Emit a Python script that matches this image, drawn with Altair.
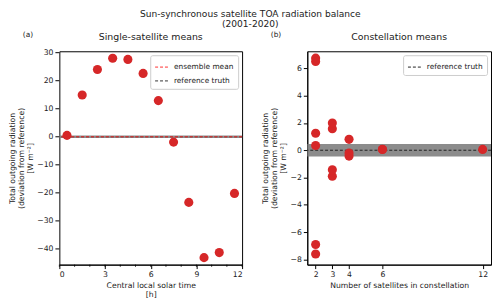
import altair as alt
import pandas as pd

# ---- data ----
lst = [0.5, 1.5, 2.5, 3.5, 4.5, 5.5, 6.5, 7.5, 8.5, 9.5, 10.5, 11.5]
single = [0.5, 14.9, 24.0, 28.0, 27.6, 22.6, 12.9, -1.9, -23.4, -43.1, -41.3, -20.2]

n_sat = [2, 2, 2, 2, 2, 2, 3, 3, 3, 3, 4, 4, 4, 6, 6, 12]
const = [6.75, 6.5, 1.25, 0.35, -6.9, -7.6, 1.57, -1.9, -1.43, 2.0, -0.43, -0.2, 0.8, 0.07, 0.05, 0.06]

band_lo = [-0.45]
band_hi = [0.45]

left_series = ["reference truth", "ensemble mean"]
left_values = [0.0, 0.0]
right_series = ["reference truth"]
right_values = [0.0]

left_xticks = [0, 3, 6, 9, 12]
left_minor = list(range(13))
left_yticks = [-40, -30, -20, -10, 0, 10, 20, 30]
left_ylabels = ["\u221240", "\u221230", "\u221220", "\u221210", "0", "10", "20", "30"]
right_xticks = [2, 3, 4, 6, 12]
right_yticks = [-8, -6, -4, -2, 0, 2, 4, 6]

FONT = "DejaVu Sans"
RED = "#d62728"
TXT = "#222222"
ytitle = ["Total outgoing radiation", "(deviation from reference)", "[W m\u207b\u00b2]"]

W, H = 185, 216


def panel_text(label, title, w):
    lab = alt.Chart(pd.DataFrame({"l": [label]})).mark_text(
        align="left", baseline="alphabetic", fontSize=7.5, font=FONT, color=TXT
    ).encode(x=alt.value(-37), y=alt.value(-14), text="l:N")
    tit = alt.Chart(pd.DataFrame({"l": [title]})).mark_text(
        align="center", baseline="alphabetic", fontSize=9.5, font=FONT, color=TXT
    ).encode(x=alt.value(w / 2), y=alt.value(-11), text="l:N")
    return lab, tit


# ---- left panel ----
ldf = pd.DataFrame({"t": lst, "v": single})
lband = pd.DataFrame({"lo": band_lo, "hi": band_hi})
lrule = pd.DataFrame({"s": left_series, "v": left_values})
lyt = pd.DataFrame({"v": left_yticks, "lab": left_ylabels})

lxs = alt.Scale(domain=[0, 12], nice=False, zero=False)
lys = alt.Scale(domain=[-45.6, 30.5], nice=False, zero=False)
lyax = alt.Axis(values=left_yticks, title=ytitle, labels=False, ticks=False, domain=False,
                titlePadding=25)
lxax = alt.Axis(values=left_xticks, title=["Central local solar time", "[h]"], labelOverlap=False)

l_band = alt.Chart(lband).mark_rect(color="#808080", opacity=0.9).encode(
    y=alt.Y("lo:Q", scale=lys, axis=lyax),
    y2="hi:Q",
)
leg_l = alt.Legend(title=None, orient="top-right")
l_rule = alt.Chart(lrule).mark_rule(strokeWidth=1).encode(
    y=alt.Y("v:Q", scale=lys, axis=lyax),
    color=alt.Color("s:N", scale=alt.Scale(domain=["ensemble mean", "reference truth"],
                                           range=["#ff3030", "#333333"]), legend=leg_l),
    strokeDash=alt.StrokeDash("s:N", scale=alt.Scale(domain=["ensemble mean", "reference truth"],
                                                     range=[[3, 2], [3, 2]]), legend=leg_l),
)
l_yticks = alt.Chart(lyt).mark_rule(color="black", strokeWidth=1).encode(
    y=alt.Y("v:Q", scale=lys, axis=lyax), x=alt.value(-4), x2=alt.value(0)
)
l_ylabels = alt.Chart(lyt).mark_text(
    align="right", baseline="middle", fontSize=7.8, font=FONT, color=TXT
).encode(y=alt.Y("v:Q", scale=lys, axis=lyax), x=alt.value(-6), text="lab:N")
l_minor = alt.Chart(pd.DataFrame({"m": left_minor})).mark_rule(
    color="black", strokeWidth=0.8
).encode(x=alt.X("m:Q", scale=lxs, axis=lxax), y=alt.value(H), y2=alt.value(H + 2.2))
l_pts = alt.Chart(ldf).mark_circle(size=85, color=RED, opacity=1).encode(
    x=alt.X("t:Q", scale=lxs, axis=lxax),
    y=alt.Y("v:Q", scale=lys, axis=lyax),
)
l_lab, l_tit = panel_text("(a)", "Single-satellite means", W)

left = alt.layer(l_band, l_rule, l_pts, l_minor, l_yticks, l_ylabels, l_lab, l_tit).properties(width=W, height=H)

# ---- right panel ----
rdf = pd.DataFrame({"n": n_sat, "v": const})
rband = pd.DataFrame({"lo": band_lo, "hi": band_hi})
rrule = pd.DataFrame({"s": right_series, "v": right_values})

rxs = alt.Scale(domain=[1.5, 12.5], nice=False, zero=False)
rys = alt.Scale(domain=[-8.38, 7.25], nice=False, zero=False)
ryax = alt.Axis(values=right_yticks, title=ytitle, labelOverlap=False)
rxax = alt.Axis(values=right_xticks, title="Number of satellites in constellation", labelOverlap=False)

r_band = alt.Chart(rband).mark_rect(color="#808080", opacity=0.9).encode(
    y=alt.Y("lo:Q", scale=rys, axis=ryax),
    y2="hi:Q",
)
leg_r = alt.Legend(title=None, orient="top-right")
r_rule = alt.Chart(rrule).mark_rule(strokeWidth=1).encode(
    y=alt.Y("v:Q", scale=rys, axis=ryax),
    color=alt.Color("s:N", scale=alt.Scale(domain=["reference truth"], range=["#222222"]), legend=leg_r),
    strokeDash=alt.StrokeDash("s:N", scale=alt.Scale(domain=["reference truth"], range=[[3, 2]]), legend=leg_r),
)
r_pts = alt.Chart(rdf).mark_circle(size=85, color=RED, opacity=1).encode(
    x=alt.X("n:Q", scale=rxs, axis=rxax),
    y=alt.Y("v:Q", scale=rys, axis=ryax),
)
r_lab, r_tit = panel_text("(b)", "Constellation means", W + 1)

right = alt.layer(r_band, r_rule, r_pts, r_lab, r_tit).properties(width=W + 1, height=H)

chart = alt.hconcat(left, right, spacing=18).resolve_scale(
    color="independent", strokeDash="independent"
).properties(
    title=alt.TitleParams(["Sun-synchronous satellite TOA radiation balance", "(2001-2020)"],
                          anchor="middle", fontSize=9.2, fontWeight="normal", font=FONT,
                          lineHeight=10, offset=2),
).configure(
    font=FONT, padding={"left": 0, "top": 0, "right": 0, "bottom": 0},
).configure_view(
    stroke="black", strokeWidth=1,
).configure_axis(
    grid=False, domainColor="black", tickColor="black", tickSize=4,
    labelFont=FONT, titleFont=FONT, labelFontSize=7.8, titleFontSize=7.8,
    titleFontWeight="normal", labelColor=TXT, titleColor=TXT, labelPadding=2, titlePadding=3,
    titleLineHeight=9,
).configure_legend(
    labelFont=FONT, labelFontSize=7.5, labelColor=TXT, symbolType="stroke",
    symbolSize=200, symbolStrokeWidth=1, strokeColor="#cccccc", fillColor="white",
    cornerRadius=2, padding=4, offset=4, rowPadding=2,
).configure_title(color=TXT)

chart.save("out.html", embed_options={"renderer": "svg", "actions": False})
